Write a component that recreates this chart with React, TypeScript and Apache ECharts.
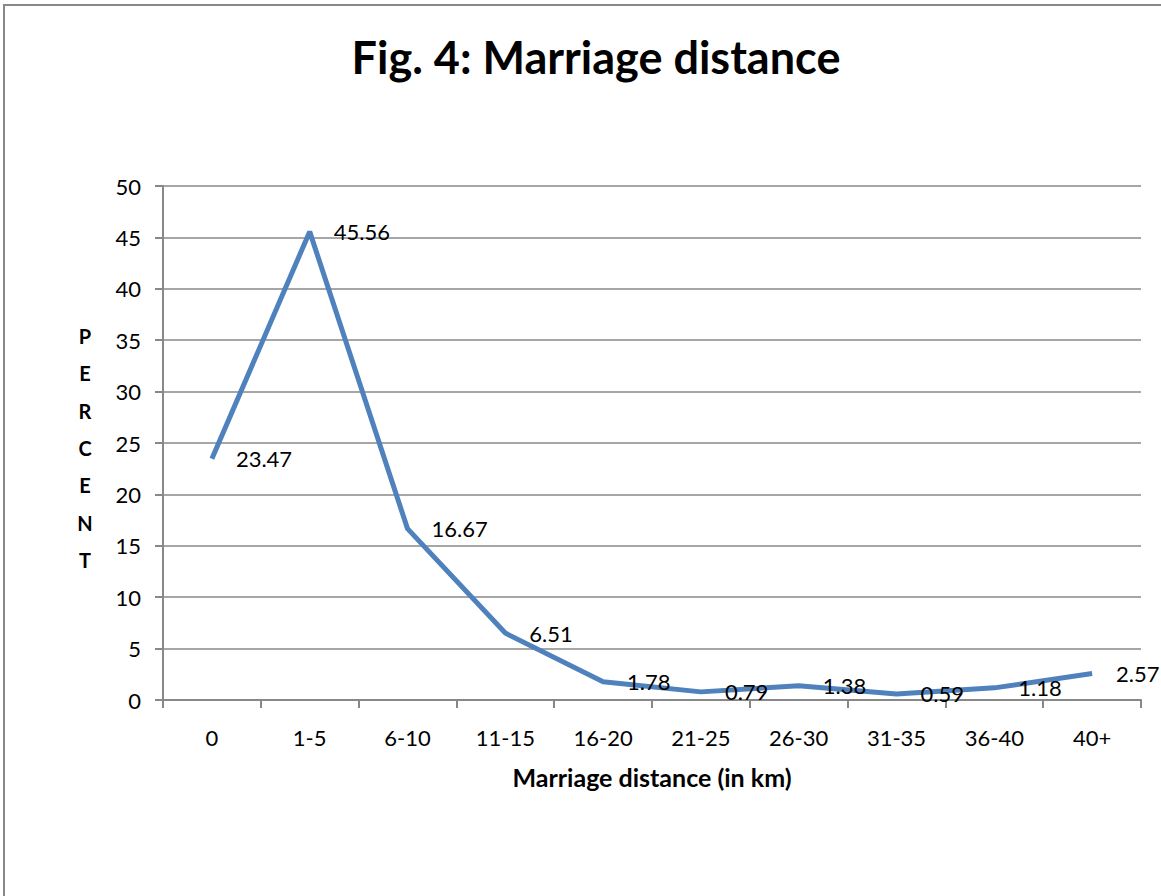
import React, { useEffect, useRef } from "react";
import * as echarts from "echarts";

const categories = ["0", "1-5", "6-10", "11-15", "16-20", "21-25", "26-30", "31-35", "36-40", "40+"];
const percentValues = [23.47, 45.56, 16.67, 6.51, 1.78, 0.79, 1.38, 0.59, 1.18, 2.57];
const yTicks = [0, 5, 10, 15, 20, 25, 30, 35, 40, 45, 50];

const FONT = "Lato, 'Open Sans', sans-serif";

export default function App() {
  const ref = useRef<HTMLDivElement>(null);
  useEffect(() => {
    document.body.style.margin = "0";
    const chart = echarts.init(ref.current!, null, { renderer: "svg" });
    chart.setOption({
      animation: false,
      backgroundColor: "#ffffff",
      title: {
        text: "Fig. 4: Marriage distance",
        left: 591,
        top: 29,
        textAlign: "center",
        textStyle: { fontFamily: FONT, fontSize: 45, fontWeight: "bold", color: "#000" },
      },
      graphic: [
        {
          type: "rect",
          shape: { x: 4, y: 5, width: 1170, height: 900 },
          style: { fill: "none", stroke: "#888888", lineWidth: 2 },
          silent: true,
        },
        {
          type: "text",
          x: 85,
          y: 448,
          style: {
            text: "P\nE\nR\nC\nE\nN\nT",
            fontFamily: FONT,
            fontSize: 20,
            fontWeight: "bold",
            lineHeight: 37.3,
            align: "center",
            verticalAlign: "middle",
            fill: "#000",
          },
        },
      ],
      grid: { left: 163, right: 20, top: 186, bottom: 196, containLabel: false },
      xAxis: {
        type: "category",
        data: categories,
        boundaryGap: true,
        name: "Marriage distance (in km)",
        nameLocation: "middle",
        nameGap: 64,
        nameTextStyle: { fontFamily: FONT, fontSize: 25, fontWeight: "bold", color: "#000" },
        axisLine: { lineStyle: { color: "#888888", width: 2 } },
        axisTick: { show: true, length: 8, lineStyle: { color: "#888888", width: 2 } },
        axisLabel: { fontFamily: FONT, fontSize: 22, color: "#000", margin: 26 },
      },
      yAxis: {
        type: "value",
        min: yTicks[0],
        max: yTicks[yTicks.length - 1],
        interval: 5,
        axisLine: { show: true, lineStyle: { color: "#888888", width: 2 } },
        axisTick: { show: true, length: 8, lineStyle: { color: "#888888", width: 2 } },
        splitLine: { show: true, lineStyle: { color: "#888888", width: 1.5 } },
        axisLabel: { fontFamily: FONT, fontSize: 22, color: "#000", margin: 22 },
      },
      series: [
        {
          type: "line",
          data: percentValues,
          symbol: "circle",
          showSymbol: true,
          symbolSize: 0,
          lineStyle: { color: "#4F81BD", width: 5 },
          itemStyle: { color: "#4F81BD" },
          label: {
            show: true,
            position: "right",
            distance: 24,
            fontFamily: FONT,
            fontSize: 22,
            color: "#000",
          },
        },
      ],
    });
    return () => chart.dispose();
  }, []);
  return <div ref={ref} style={{ position: "fixed", left: 0, top: 0, width: 1161, height: 896 }} />;
}
